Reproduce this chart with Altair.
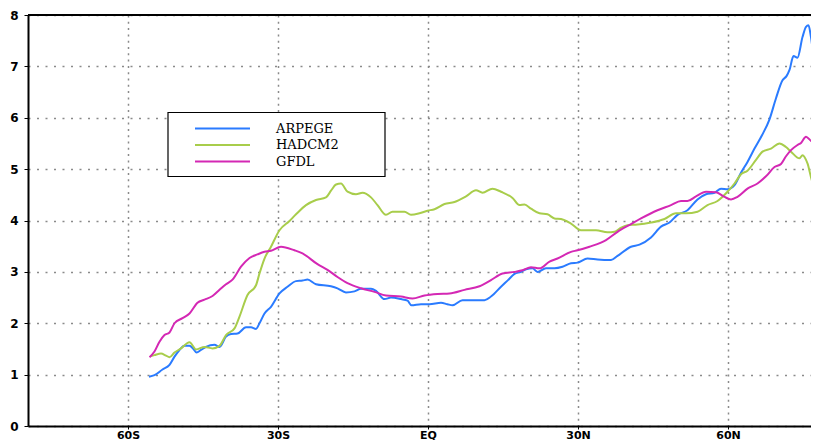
import altair as alt
import pandas as pd

ARPEGE = [(-55.8, 0.96), (-54.7, 0.99), (-53.1, 1.10), (-51.7, 1.19), (-50.7, 1.35), (-49.7, 1.48),
          (-48.7, 1.56), (-47.7, 1.56), (-47.0, 1.51), (-46.3, 1.43), (-45.4, 1.48), (-44.4, 1.54),
          (-42.7, 1.58), (-41.7, 1.54), (-40.4, 1.74), (-39.4, 1.79), (-38.1, 1.80), (-36.4, 1.92),
          (-35.4, 1.92), (-34.4, 1.89), (-33.7, 2.00), (-32.7, 2.19), (-31.4, 2.32), (-29.7, 2.58),
          (-28.1, 2.71), (-26.4, 2.82), (-25.1, 2.83), (-24.1, 2.85), (-22.4, 2.76), (-19.4, 2.72),
          (-18.1, 2.68), (-16.4, 2.60), (-14.7, 2.62), (-13.4, 2.67), (-11.4, 2.67), (-10.4, 2.63),
          (-8.7, 2.47), (-7.4, 2.50), (-5.4, 2.47), (-4.1, 2.44), (-3.3, 2.35), (-1.4, 2.37),
          (0.3, 2.37), (2.6, 2.40), (3.9, 2.37), (4.9, 2.35), (6.9, 2.45), (9.3, 2.45), (11.3, 2.45),
          (12.6, 2.52), (14.6, 2.71), (15.9, 2.83), (17.3, 2.96), (18.6, 3.00), (19.6, 3.05),
          (20.9, 3.07), (21.9, 3.00), (23.6, 3.07), (25.3, 3.07), (26.9, 3.10), (28.6, 3.17),
          (29.9, 3.18), (31.9, 3.26), (33.9, 3.24), (36.6, 3.23), (37.9, 3.31), (40.6, 3.49),
          (42.3, 3.53), (44.6, 3.67), (46.6, 3.88), (48.3, 3.96), (49.9, 4.11), (51.9, 4.20),
          (53.9, 4.41), (55.6, 4.51), (57.3, 4.54), (58.6, 4.62), (59.9, 4.61), (61.3, 4.69),
          (62.6, 4.93), (63.9, 5.14), (65.3, 5.40), (66.8, 5.66), (68.3, 5.97), (69.6, 6.38),
          (70.9, 6.73), (71.7, 6.81), (72.3, 6.93), (73.1, 7.20), (73.9, 7.17), (74.9, 7.57),
          (75.6, 7.77), (76.1, 7.80), (76.6, 7.57), (77.1, 7.25), (77.7, 7.20), (78.4, 7.28)]

HADCM2 = [(-55.5, 1.36), (-54.7, 1.38), (-53.4, 1.41), (-52.4, 1.37), (-51.7, 1.34), (-50.7, 1.43),
          (-49.4, 1.51), (-47.7, 1.63), (-46.4, 1.49), (-44.7, 1.54), (-43.1, 1.51), (-41.7, 1.56),
          (-40.4, 1.77), (-38.7, 1.90), (-37.7, 2.13), (-36.1, 2.55), (-34.4, 2.74), (-33.7, 2.97),
          (-32.7, 3.26), (-31.4, 3.49), (-29.7, 3.81), (-27.7, 3.99), (-26.4, 4.12), (-24.4, 4.30),
          (-22.4, 4.40), (-20.4, 4.45), (-19.4, 4.58), (-18.4, 4.70), (-17.4, 4.72), (-16.1, 4.56),
          (-14.4, 4.51), (-13.1, 4.54), (-11.4, 4.45), (-10.1, 4.30), (-8.4, 4.11), (-7.1, 4.17),
          (-4.7, 4.17), (-3.4, 4.11), (-1.7, 4.14), (-0.1, 4.19), (1.3, 4.22), (3.3, 4.32),
          (5.3, 4.36), (7.6, 4.47), (9.6, 4.59), (10.9, 4.54), (12.9, 4.62), (14.6, 4.56),
          (16.9, 4.44), (18.3, 4.30), (19.3, 4.31), (20.6, 4.23), (22.3, 4.14), (23.9, 4.12),
          (25.3, 4.04), (26.6, 4.03), (28.6, 3.94), (30.6, 3.81), (31.9, 3.81), (33.6, 3.81),
          (35.9, 3.77), (37.3, 3.78), (38.6, 3.86), (39.9, 3.91), (41.9, 3.92), (44.6, 3.96),
          (47.3, 4.03), (49.6, 4.14), (51.6, 4.14), (53.9, 4.17), (55.9, 4.30), (57.9, 4.38),
          (59.9, 4.56), (61.3, 4.72), (62.6, 4.90), (63.9, 4.97), (65.6, 5.18), (66.9, 5.34),
          (68.6, 5.40), (70.3, 5.50), (71.6, 5.43), (72.6, 5.34), (74.3, 5.21), (74.9, 5.27),
          (75.9, 5.11), (76.9, 4.75), (77.6, 4.69), (78.4, 4.72)]

GFDL = [(-55.7, 1.34), (-54.7, 1.45), (-53.7, 1.64), (-52.7, 1.77), (-51.7, 1.82), (-50.7, 2.00),
        (-49.1, 2.10), (-47.7, 2.19), (-46.1, 2.40), (-44.7, 2.46), (-43.1, 2.53), (-41.7, 2.65),
        (-40.4, 2.76), (-39.1, 2.85), (-37.4, 3.10), (-35.7, 3.27), (-34.1, 3.34), (-32.7, 3.39),
        (-31.4, 3.41), (-29.4, 3.49), (-26.7, 3.42), (-25.1, 3.36), (-22.1, 3.15), (-20.1, 3.04),
        (-18.1, 2.90), (-16.1, 2.78), (-13.4, 2.68), (-10.7, 2.61), (-8.4, 2.54), (-5.4, 2.52),
        (-3.1, 2.48), (-0.7, 2.54), (1.9, 2.57), (4.3, 2.58), (7.3, 2.65), (10.3, 2.72),
        (12.6, 2.84), (14.9, 2.97), (17.3, 3.00), (18.9, 3.03), (20.6, 3.09), (22.3, 3.07),
        (24.3, 3.20), (25.9, 3.26), (28.6, 3.39), (29.9, 3.42), (32.3, 3.49), (34.6, 3.57),
        (35.6, 3.62), (37.9, 3.78), (40.6, 3.93), (42.6, 4.04), (45.9, 4.20), (48.6, 4.30),
        (50.6, 4.38), (51.9, 4.38), (53.6, 4.47), (55.6, 4.56), (57.6, 4.55), (59.3, 4.46),
        (60.6, 4.41), (61.9, 4.46), (63.9, 4.62), (65.9, 4.72), (67.6, 4.86), (69.3, 5.04),
        (70.6, 5.10), (71.6, 5.25), (72.6, 5.37), (73.9, 5.47), (74.6, 5.51), (75.6, 5.63),
        (76.6, 5.55), (78.4, 5.50)]

SERIES = ["ARPEGE", "HADCM2", "GFDL"]
COLORS = ["#2a7bff", "#a8cd4b", "#d428b4"]
X_TICKS = [-60, -30, 0, 30, 60]
Y_TICKS = [0, 1, 2, 3, 4, 5, 6, 7, 8]

rows = []
for name, pts in zip(SERIES, [ARPEGE, HADCM2, GFDL]):
    for i, (lat, v) in enumerate(pts):
        rows.append({"model": name, "lat": lat, "value": v, "order": i})
df = pd.DataFrame(rows)

x_scale = alt.Scale(domain=[-80, 76.6], nice=False, zero=False)
y_scale = alt.Scale(domain=[0, 8], nice=False, zero=True)

lines = alt.Chart(df).mark_line(strokeWidth=2, interpolate="monotone", clip=True).encode(
    x=alt.X("lat:Q", scale=x_scale,
            axis=alt.Axis(values=X_TICKS, title=None,
                          labelExpr="datum.value == 0 ? 'EQ' : abs(datum.value) + (datum.value < 0 ? 'S' : 'N')",
                          grid=True, gridDash=[2, 4.3], gridColor="#8a8a8a", gridWidth=1.5,
                          domainColor="black", domainWidth=2, tickColor="black", tickSize=3,
                          labelPadding=0, labelFont="DejaVu Sans", labelFontWeight="bold",
                          labelFontSize=11, labelColor="black")),
    y=alt.Y("value:Q", scale=y_scale,
            axis=alt.Axis(values=Y_TICKS, title=None,
                          grid=True, gridDash=[2, 6.5], gridColor="#8a8a8a", gridWidth=1.5,
                          domainColor="black", domainWidth=2, tickColor="black", tickSize=4,
                          labelPadding=6, labelFont="DejaVu Sans", labelFontWeight="bold",
                          labelFontSize=12, labelColor="black")),
    color=alt.Color("model:N", scale=alt.Scale(domain=SERIES, range=COLORS), sort=SERIES,
                    legend=alt.Legend(orient="none", legendX=140, legendY=98, title=None,
                                      symbolType="M-5,0H5", symbolSize=121, symbolStrokeWidth=2,
                                      symbolOffset=39, labelOffset=47,
                                      labelFont="DejaVu Serif", labelFontSize=13, labelColor="black",
                                      rowPadding=2.5, padding=9)),
    order="order:Q",
)

# legend frame (decoration, in pixel space)
frame = alt.Chart(pd.DataFrame({"k": [0]})).mark_rect(
    fill="white", stroke="black", strokeWidth=1.2
).encode(x=alt.value(140), x2=alt.value(357), y=alt.value(97.5), y2=alt.value(161.5))

top = alt.Chart(pd.DataFrame({"v": [8]})).mark_rule(color="black", strokeWidth=2).encode(
    y=alt.Y("v:Q", scale=y_scale)
)

chart = alt.layer(lines, frame, top).properties(
    width=783, height=411,
    autosize=alt.AutoSizeParams(type="none"),
    padding={"left": 20, "top": 7, "right": 0, "bottom": 14},
).configure_view(stroke=None)

chart.save("out.html", embed_options={"renderer": "svg", "actions": False})
